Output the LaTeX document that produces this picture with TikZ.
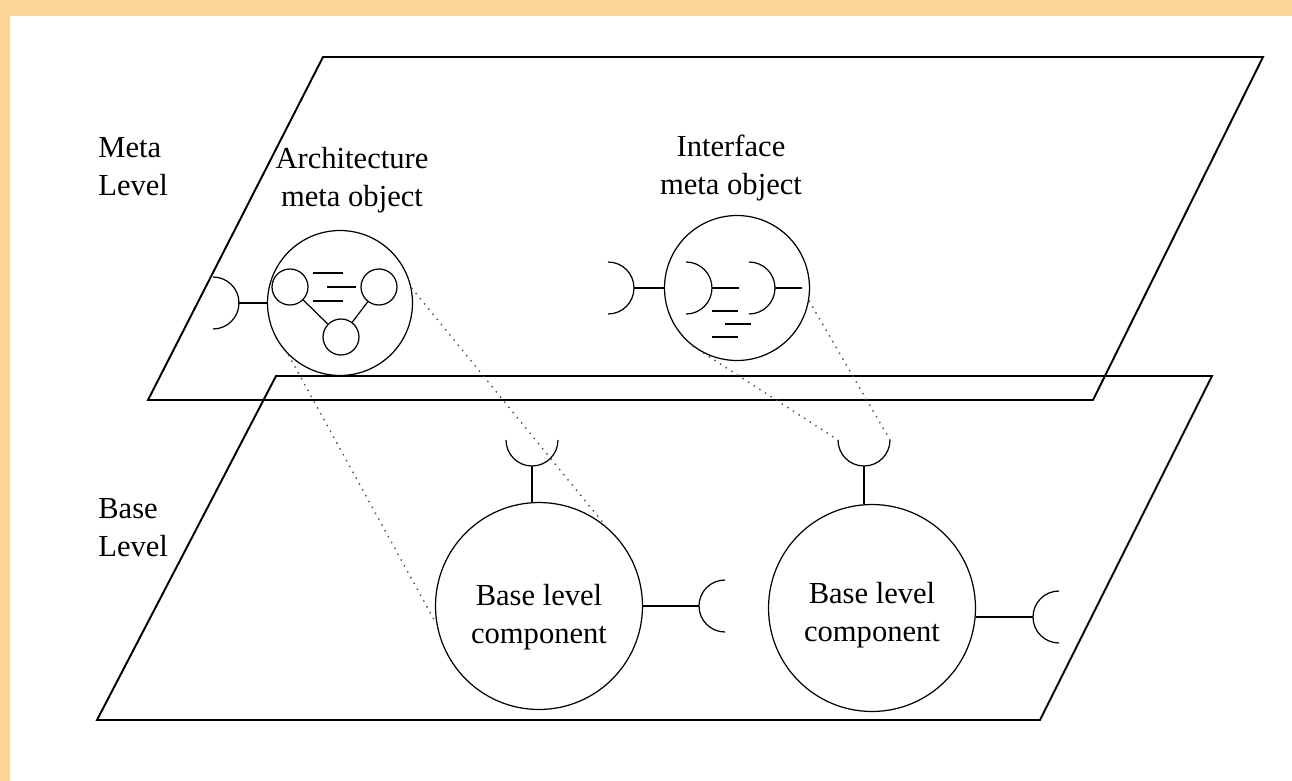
\documentclass[tikz,border=0pt]{standalone}
\usepackage{fontspec}
\setmainfont{Liberation Serif}
\usetikzlibrary{calc}

\definecolor{framepeach}{RGB}{250,213,150}

\begin{document}
\begin{tikzpicture}[x=0.02cm,y=-0.02cm,
  plane/.style={line width=1.1pt},
  meta node/.style={circle,draw,line width=0.7pt,minimum size=2.9cm,inner sep=0pt},
  small node/.style={circle,draw,line width=0.7pt,minimum size=0.72cm,inner sep=0pt},
  base node/.style={circle,draw,line width=0.7pt,minimum size=4.14cm,inner sep=0pt},
  level text/.style={inner sep=0pt,font=\fontsize{17.4}{21.5}\selectfont},
  socket/.style={line width=0.7pt},
  stem/.style={line width=1pt},
  bar/.style={line width=1.2pt},
  proj/.style={line width=0.8pt,dash pattern=on 0.8pt off 3pt,black!70}]
  % frame
  \fill[framepeach] (0,0) rectangle (1292,781);
  \fill[white] (10,16) rectangle (1292,781);
  \useasboundingbox (0,0) rectangle (1292,781);
  % the two levels
  \draw[plane] (323,57) -- (1263,57) -- (1093,400) -- (148,400) -- cycle;
  \draw[plane] (276,376) -- (1212,376) -- (1040,720) -- (97,720) -- cycle;
  \node[level text,align=left,anchor=west] (meta) at (98,167) {Meta\\Level};
  \node[level text,align=left,anchor=west] (base) at (98,528) {Base\\Level};
  \node[level text,align=center] (amotext) at (352,180) {Architecture\\meta object};
  \node[level text,align=center] (imotext) at (731,168) {Interface\\meta object};

  % architecture meta object
  \node[meta node] (amo) at (340,303) {};
  \node[small node] (amo1) at (290,287) {};
  \node[small node] (amo2) at (379,287) {};
  \node[small node] (amo3) at (341,337) {};
  \path[socket] (amo1) edge (amo3)
                (amo2) edge (amo3);
  \foreach \xa/\xb/\yy in {313/343/273, 327/356/287, 313/343/301}
    \draw[bar] (\xa,\yy) -- (\xb,\yy);
  \coordinate (amosock) at (238,303);
  \draw[stem] (amo.west) -- (amosock);
  \draw[socket] ($(amosock)+(-25,-26)$) arc[start angle=-90,end angle=90,radius=26];

  % interface meta object
  \node[meta node] (imo) at (737,288) {};
  \coordinate (imosock) at (634,288);
  \draw[stem] (imo.west) -- (imosock);
  \draw[socket] ($(imosock)+(-26,-26)$) arc[start angle=-90,end angle=90,radius=26];
  \foreach \xs in {712,775}{
    \draw[socket] ($(\xs,288)+(-26,-26)$) arc[start angle=-90,end angle=90,radius=26];
    \draw[stem] (\xs,288) -- ++(27,0);
  }
  \foreach \xa/\xb/\yy in {712/738/311, 725/751/324, 712/738/337}
    \draw[bar] (\xa,\yy) -- (\xb,\yy);

  % base level components
  \node[base node,label={[level text,align=center,yshift=-6.5pt]center:Base level\\component}]
    (base1) at (539,606) {};
  \node[base node,label={[level text,align=center,yshift=-4pt]center:Base level\\component}]
    (base2) at (872,608) {};
  \coordinate (bs1) at (532,466);
  \coordinate (bs2) at (864,466);
  \coordinate (bs3) at (699,606);
  \coordinate (bs4) at (1033,617);
  \coordinate (bs2l) at (838,440);
  \coordinate (bs2r) at (890,440);
  \draw[stem] (bs1) -- (bs1 |- base1.north);
  \draw[stem] (bs2) -- (bs2 |- base2.north);
  \draw[stem] (base1.east) -- (bs3);
  \draw[stem] (base2.-5) -- (bs4);
  \draw[socket] ($(bs1)+(26,-26)$) arc[start angle=0,end angle=180,radius=26];
  \draw[socket] ($(bs2)+(26,-26)$) arc[start angle=0,end angle=180,radius=26];
  \draw[socket] ($(bs3)+(26,26)$) arc[start angle=90,end angle=270,radius=26];
  \draw[socket] ($(bs4)+(26,26)$) arc[start angle=90,end angle=270,radius=26];

  % reflection
  \draw[proj] (amo.225) -- (base1.190);
  \draw[proj] (amo.12) -- (base1.50);
  \draw[proj] (imo.232) -- (bs2l);
  \draw[proj] (imo.-10) -- (bs2r);
\end{tikzpicture}
\end{document}
